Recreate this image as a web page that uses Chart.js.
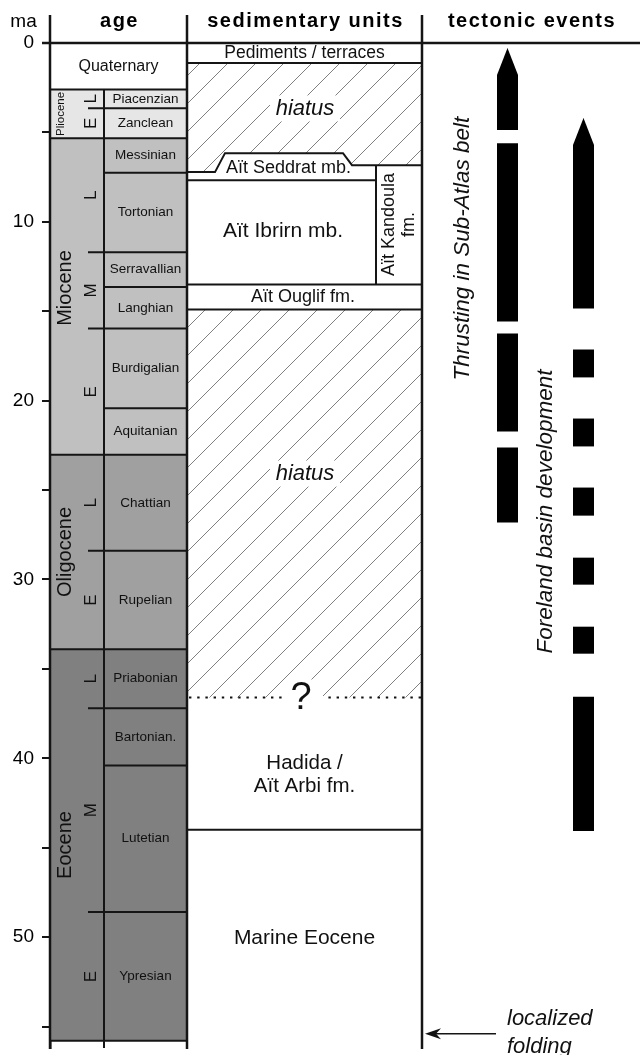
<!DOCTYPE html>
<html>
<head>
<meta charset="utf-8">
<title>Stratigraphy and tectonic events</title>
<script src="https://cdn.jsdelivr.net/npm/chart.js@4.4.1/dist/chart.umd.min.js"></script>
<style>
	html, body { margin: 0; padding: 0; background: #fff; }
	canvas { display: block; }
</style>
</head>
<body>
<canvas id="stratChart" width="640" height="1055"></canvas>
<script>
var FONT = '"Liberation Sans", Arial, Helvetica, sans-serif';

// age axis (ma)
var tickLabels = [0, 10, 20, 30, 40, 50];
var axisMax = 56.2;

var epochNames = ['Quaternary', 'Pliocene', 'Miocene', 'Oligocene', 'Eocene'];
var epochBase = [2.6, 5.33, 23.03, 33.9, 55.8];

var subEpochNames = ['L', 'E', 'L', 'M', 'E', 'L', 'E', 'L', 'M', 'E'];
var subEpochBase = [3.65, 5.33, 11.7, 15.97, 23.03, 28.4, 33.9, 37.2, 48.6, 55.8];

var stageNames = ['Piacenzian', 'Zanclean', 'Messinian', 'Tortonian', 'Serravallian', 'Langhian', 'Burdigalian',
	'Aquitanian', 'Chattian', 'Rupelian', 'Priabonian', 'Bartonian.', 'Lutetian', 'Ypresian'];
var stageBase = [3.65, 5.33, 7.25, 11.7, 13.65, 15.97, 20.43, 23.03, 28.4, 33.9, 37.2, 40.4, 48.6, 55.8];
var stageEpoch = [1, 1, 2, 2, 2, 2, 2, 2, 3, 3, 4, 4, 4, 4];

// sedimentary units
var unitNames = ['Pediments / terraces', 'A\u00eft Seddrat mb.', 'A\u00eft Ibrirn mb.', 'A\u00eft Kandoula\nfm.',
	'A\u00eft Ouglif fm.', 'Hadida /\nA\u00eft Arbi fm.', 'Marine Eocene'];
var unitTop = [0, 6.16, 7.67, 6.83, 13.5, 36.6, 44.0];
var unitBase = [1.12, 7.67, 13.5, 13.5, 14.9, 44.0, 56.2];
var seddratTop = [7.22, 6.16, 6.83];
var hiatusTop = [1.12, 14.9];
var hiatusBase = [7.22, 36.6];

// tectonic events
var thrustSegments = [[0.28, 4.87], [5.6, 15.57], [16.24, 21.73], [22.62, 26.82]];
var forelandSegments = [[4.2, 14.84], [17.14, 18.7], [21.0, 22.56], [24.86, 26.43], [28.78, 30.29], [32.64, 34.15], [36.56, 44.06]];
var foldingAge = 55.4;

// layout (page px) and styles
var col = {
	axis: 50, sub: 88, stage: 104, units: 187, kandoula: 376, events: 422, right: 640,
	thrust: 507.5, foreland: 583.5, bar: 21, head: 27,
	step: [215, 225, 343, 352]
};
var epochFill = ['#ffffff', '#e6e6e6', '#c0c0c0', '#a0a0a0', '#808080'];
var epochLabel = [
	{ x: 118.5, size: 16, rotate: false },
	{ x: 61, size: 11.5, rotate: true },
	{ x: 65, size: 20, rotate: true, ma: 13.7 },
	{ x: 65, size: 20, rotate: true },
	{ x: 65, size: 20, rotate: true }
];
var unitLabel = [
	{ x: 304.5, ma: 0.56, size: 17.5 },
	{ x: 288.5, ma: 7.0, size: 18 },
	{ x: 283, ma: 10.5, size: 21 },
	{ x: 399, ma: 10.15, size: 18, rotate: true, gap: 20 },
	{ x: 303, ma: 14.22, size: 18 },
	{ x: 304.5, ma: 40.9, size: 20.5, gap: 23 },
	{ x: 304.5, ma: 50.06, size: 21 }
];
var hiatusLabel = [3.66, 24.08];

function spanList(base, firstTop) {
	return base.map(function(b, i) {
		return [i === 0 ? firstTop : base[i - 1], b];
	});
}

var epochSpans = spanList(epochBase, 0);
var subEpochSpans = spanList(subEpochBase, epochBase[0]);
var stageSpans = spanList(stageBase, epochBase[0]);

function barSet(spans, x, width, colors) {
	return {
		type: 'bar',
		data: spans.map(function(s) { return { x: x, y: s }; }),
		barThickness: width,
		backgroundColor: colors,
		borderWidth: 0,
		inflateAmount: 0,
		grouped: false
	};
}

function line(ctx, pts) {
	ctx.beginPath();
	pts.forEach(function(p, i) {
		if (i) ctx.lineTo(p[0], p[1]); else ctx.moveTo(p[0], p[1]);
	});
	ctx.stroke();
}

function drawText(ctx, str, x, y, font, rotate, gap) {
	var lines = str.split('\n');
	ctx.save();
	ctx.translate(x, y);
	if (rotate) ctx.rotate(-Math.PI / 2);
	ctx.font = font;
	ctx.fillStyle = '#111';
	ctx.textAlign = 'center';
	ctx.textBaseline = 'middle';
	lines.forEach(function(l, i) {
		ctx.fillText(l, 0, (i - (lines.length - 1) / 2) * (gap || 0));
	});
	ctx.restore();
}

function hatch(ctx, poly) {
	var xs = poly.map(function(p) { return p[0]; });
	var ys = poly.map(function(p) { return p[1]; });
	var x1 = Math.min.apply(null, xs), x2 = Math.max.apply(null, xs);
	var y1 = Math.min.apply(null, ys) - 2, y2 = Math.max.apply(null, ys) + 2;
	ctx.save();
	ctx.beginPath();
	poly.forEach(function(p, i) {
		if (i) ctx.lineTo(p[0], p[1]); else ctx.moveTo(p[0], p[1]);
	});
	ctx.closePath();
	ctx.clip();
	ctx.strokeStyle = '#808080';
	ctx.lineWidth = 1;
	ctx.beginPath();
	for (var c = Math.floor((x1 + y1) / 28) * 28 + 11 - 28; c < x2 + y2 + 28; c += 28) {
		ctx.moveTo(c - y1, y1);
		ctx.lineTo(c - y2, y2);
	}
	ctx.stroke();
	ctx.restore();
}

function arrowTip(ctx, xc, top, w, h) {
	var x0 = xc - w / 2, x1 = xc + w / 2;
	ctx.fillStyle = '#fff';
	ctx.beginPath();
	ctx.moveTo(x0 - 2, top - 2); ctx.lineTo(xc, top - 2); ctx.lineTo(xc, top);
	ctx.lineTo(x0, top + h); ctx.lineTo(x0 - 2, top + h);
	ctx.closePath(); ctx.fill();
	ctx.beginPath();
	ctx.moveTo(x1 + 2, top - 2); ctx.lineTo(xc, top - 2); ctx.lineTo(xc, top);
	ctx.lineTo(x1, top + h); ctx.lineTo(x1 + 2, top + h);
	ctx.closePath(); ctx.fill();
}

var strataPlugin = {
	id: 'strata',
	afterDatasetsDraw: function(chart) {
		var ctx = chart.ctx, area = chart.chartArea;
		var Y = function(v) { return chart.scales.y.getPixelForValue(v); };
		var X = function(v) { return chart.scales.x.getPixelForValue(v); };
		var xa = X(col.axis), xs = X(col.sub), xst = X(col.stage), xu = X(col.units), xk = X(col.kandoula), xe = X(col.events);
		var st = col.step.map(X);
		var headTop = 15;

		ctx.save();

		// hiatus hatching
		hatch(ctx, [[xu, Y(hiatusTop[0])], [xe, Y(hiatusTop[0])], [xe, Y(seddratTop[2])], [st[3], Y(seddratTop[2])],
			[st[2], Y(seddratTop[1])], [st[1], Y(seddratTop[1])], [st[0], Y(hiatusBase[0])], [xu, Y(hiatusBase[0])]]);
		hatch(ctx, [[xu, Y(hiatusTop[1])], [xe, Y(hiatusTop[1])], [xe, Y(hiatusBase[1])], [xu, Y(hiatusBase[1])]]);

		// dotted uncertain base of the hiatus
		ctx.strokeStyle = '#111';
		ctx.lineWidth = 2.2;
		ctx.setLineDash([2.4, 5.8]);
		line(ctx, [[xu + 2, Y(unitTop[5])], [xe, Y(unitTop[5])]]);
		ctx.setLineDash([]);

		ctx.fillStyle = '#fff';
		hiatusLabel.forEach(function(m) { ctx.fillRect(270, Y(m) - 13, 70, 26); });
		ctx.fillRect(287, Y(unitTop[5]) - 18, 36, 38);

		// age column lines
		ctx.strokeStyle = '#151515';
		ctx.lineWidth = 2;
		line(ctx, [[xa, Y(epochBase[0])], [xu, Y(epochBase[0])]]);
		stageBase.forEach(function(b) {
			var x0 = xst;
			if (subEpochBase.indexOf(b) > -1) x0 = xs;
			if (epochBase.indexOf(b) > -1) x0 = xa;
			line(ctx, [[x0, Y(b)], [xu, Y(b)]]);
		});
		line(ctx, [[xst, Y(epochBase[0])], [xst, area.bottom]]);

		// sedimentary unit lines
		line(ctx, [[xu, Y(unitBase[0])], [xe, Y(unitBase[0])]]);
		line(ctx, [[xu, Y(seddratTop[0])], [st[0], Y(seddratTop[0])], [st[1], Y(seddratTop[1])],
			[st[2], Y(seddratTop[1])], [st[3], Y(seddratTop[2])], [xe, Y(seddratTop[2])]]);
		line(ctx, [[xu, Y(unitBase[1])], [xk, Y(unitBase[1])]]);
		line(ctx, [[xk, Y(unitTop[3])], [xk, Y(unitBase[3])]]);
		line(ctx, [[xu, Y(unitBase[2])], [xe, Y(unitBase[2])]]);
		line(ctx, [[xu, Y(unitBase[4])], [xe, Y(unitBase[4])]]);
		line(ctx, [[xu, Y(unitBase[5])], [xe, Y(unitBase[5])]]);

		// main frame
		ctx.lineWidth = 2.5;
		[xa, xu, xe].forEach(function(x) { line(ctx, [[x, headTop], [x, area.bottom + 1]]); });
		line(ctx, [[xa - 8, area.top], [area.right, area.top]]);

		// age labels
		epochNames.forEach(function(n, i) {
			var s = epochSpans[i], l = epochLabel[i];
			var m = l.ma !== undefined ? l.ma : (s[0] + s[1]) / 2;
			drawText(ctx, n, l.x, Y(m), l.size + 'px ' + FONT, l.rotate);
		});
		subEpochNames.forEach(function(n, i) {
			var s = subEpochSpans[i];
			drawText(ctx, n, 91.5, Y((s[0] + s[1]) / 2), '17px ' + FONT, true);
		});
		stageNames.forEach(function(n, i) {
			var s = stageSpans[i];
			drawText(ctx, n, (xst + xu) / 2, Y((s[0] + s[1]) / 2), '13.5px ' + FONT, false);
		});

		// unit labels
		unitNames.forEach(function(n, i) {
			var l = unitLabel[i];
			drawText(ctx, n, l.x, Y(l.ma), l.size + 'px ' + FONT, l.rotate, l.gap);
		});
		hiatusLabel.forEach(function(m) {
			drawText(ctx, 'hiatus', 305, Y(m), 'italic 22px ' + FONT, false);
		});
		drawText(ctx, '?', 301, Y(unitTop[5]) + 1, '38px ' + FONT, false);

		// arrow heads on the open-ended events
		arrowTip(ctx, X(col.thrust), Y(thrustSegments[0][0]), col.bar, col.head);
		arrowTip(ctx, X(col.foreland), Y(forelandSegments[0][0]), col.bar, col.head);
		drawText(ctx, 'Thrusting in Sub-Atlas belt', 463, Y(11.5), 'italic 22.5px ' + FONT, true);
		drawText(ctx, 'Foreland basin development', 546, Y(26.2), 'italic 22.5px ' + FONT, true);

		// localized folding
		var fy = Y(foldingAge);
		ctx.lineWidth = 1.5;
		line(ctx, [[496, fy], [xe + 8, fy]]);
		ctx.fillStyle = '#111';
		ctx.beginPath();
		ctx.moveTo(xe + 3, fy); ctx.lineTo(xe + 19, fy - 5.5); ctx.lineTo(xe + 14, fy); ctx.lineTo(xe + 19, fy + 5.5);
		ctx.closePath(); ctx.fill();
		ctx.font = 'italic 22px ' + FONT;
		ctx.textAlign = 'left';
		ctx.textBaseline = 'alphabetic';
		ctx.fillText('localized', 507, 1025);
		ctx.fillText('folding', 507, 1053);

		// header
		ctx.fillStyle = '#000';
		ctx.textAlign = 'center';
		ctx.font = '19px ' + FONT;
		ctx.fillText('ma', 23.5, 27);
		ctx.font = 'bold 20px ' + FONT;
		ctx.letterSpacing = '1.5px';
		ctx.fillText('age', (xa + xu) / 2 + 1, 27);
		ctx.fillText('sedimentary units', (xu + xe) / 2 + 1, 27);
		ctx.fillText('tectonic events', (xe + area.right) / 2 + 1, 27);
		ctx.letterSpacing = '0px';

		ctx.restore();
	}
};

var datasets = [
	barSet([epochSpans[0]], (col.axis + col.units) / 2, col.units - col.axis, epochFill[0]),
	barSet(epochSpans.slice(1), (col.axis + col.stage) / 2, col.stage - col.axis, epochFill.slice(1)),
	barSet(stageSpans, (col.stage + col.units) / 2, col.units - col.stage, stageEpoch.map(function(e) { return epochFill[e]; })),
	barSet(thrustSegments, col.thrust, col.bar, '#000'),
	barSet(forelandSegments, col.foreland, col.bar, '#000')
];

new Chart(document.getElementById('stratChart'), {
	type: 'bar',
	data: { datasets: datasets },
	options: {
		responsive: false,
		animation: false,
		events: [],
		layout: { padding: { top: 43, right: 0, bottom: 7, left: 0 } },
		plugins: {
			legend: { display: false },
			tooltip: { enabled: false }
		},
		scales: {
			x: { type: 'linear', min: col.axis, max: col.right, display: false, offset: false },
			y: {
				type: 'linear',
				reverse: true,
				min: 0,
				max: axisMax,
				afterFit: function(scale) {
					scale.width = col.axis;
					scale.paddingTop = 0;
					scale.paddingBottom = 0;
				},
				border: { display: true, color: '#151515', width: 2.5 },
				grid: { drawOnChartArea: false, tickLength: 8, color: '#151515', lineWidth: 2 },
				ticks: {
					stepSize: 5,
					autoSkip: false,
					includeBounds: false,
					padding: 8,
					color: '#000',
					font: { family: FONT, size: 19 },
					callback: function(v) { return tickLabels.indexOf(v) > -1 ? String(v) : ''; }
				}
			}
		}
	},
	plugins: [strataPlugin]
});
</script>
</body>
</html>
